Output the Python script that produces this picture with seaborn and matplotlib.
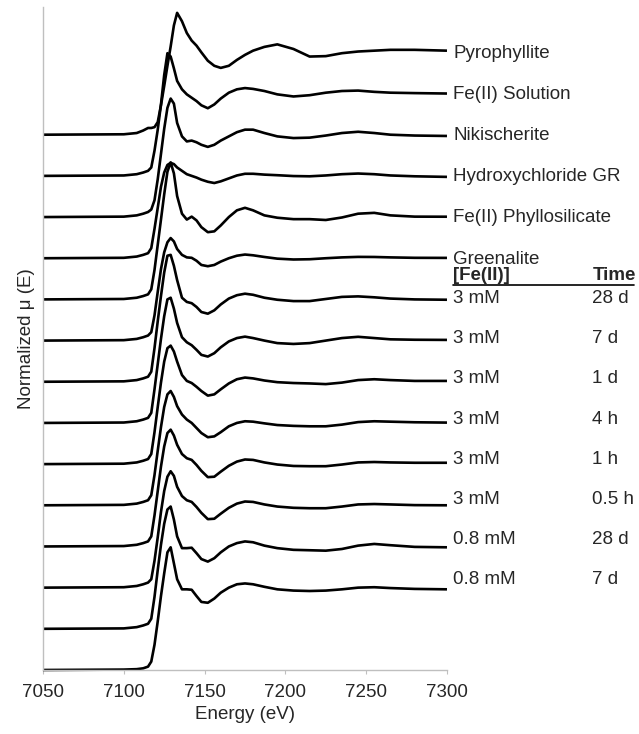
import matplotlib
matplotlib.use('Agg')
import matplotlib.pyplot as plt
import seaborn as sns
import pandas as pd

# energy grid (eV) and normalized mu(E), one list per spectrum
energy = [7050, 7100, 7108, 7112, 7115, 7117, 7119, 7121, 7123, 7125, 7127, 7129,
          7131, 7133, 7136, 7139, 7142, 7145, 7148, 7152, 7156, 7160, 7165, 7170,
          7175, 7180, 7187, 7195, 7205, 7215, 7225, 7235, 7245, 7255, 7265, 7280, 7300]

pyrophyllite = [0, 0.005, 0.02, 0.05, 0.08, 0.08, 0.09, 0.15, 0.35, 0.58, 0.82, 1.05,
                1.30, 1.45, 1.35, 1.21, 1.12, 1.06, 0.98, 0.88, 0.82, 0.795, 0.82, 0.89,
                0.95, 1.0, 1.045, 1.075, 1.02, 0.93, 0.935, 0.97, 0.99, 1.0, 1.01, 1.01, 1.0]
fe_solution = [0, 0.005, 0.02, 0.04, 0.06, 0.10, 0.30, 0.55, 0.85, 1.20, 1.46, 1.42,
               1.28, 1.13, 1.03, 0.97, 0.93, 0.89, 0.84, 0.805, 0.85, 0.92, 0.99, 1.03,
               1.045, 1.035, 1.01, 0.97, 0.945, 0.96, 0.99, 1.01, 1.015, 1.0, 0.99, 0.985, 0.98]
nikischerite = [0, 0.005, 0.02, 0.04, 0.06, 0.09, 0.20, 0.45, 0.75, 1.05, 1.30, 1.41,
                1.35, 1.12, 0.96, 0.90, 0.91, 0.89, 0.86, 0.835, 0.86, 0.91, 0.96, 1.01,
                1.04, 1.04, 1.0, 0.96, 0.94, 0.945, 0.97, 1.0, 1.015, 1.0, 0.98, 0.97, 0.965]
hydroxy_gr = [0, 0.005, 0.02, 0.04, 0.06, 0.12, 0.35, 0.60, 0.85, 1.02, 1.11, 1.135,
              1.12, 1.08, 1.04, 1.0, 0.98, 0.96, 0.935, 0.91, 0.895, 0.915, 0.95, 0.985,
              1.005, 1.005, 0.995, 0.988, 0.978, 0.975, 0.985, 1.0, 1.008, 1.0, 0.985, 0.975, 0.968]
phyllosilicate = [0, 0.005, 0.02, 0.04, 0.06, 0.12, 0.35, 0.65, 0.95, 1.25, 1.52, 1.63,
                  1.50, 1.23, 1.02, 0.95, 0.985, 0.94, 0.86, 0.80, 0.81, 0.88, 0.98, 1.06,
                  1.09, 1.06, 1.0, 0.972, 0.955, 0.955, 0.945, 0.975, 1.02, 1.03, 1.0, 0.985, 0.984]
greenalite = [0, 0.005, 0.02, 0.04, 0.06, 0.10, 0.30, 0.58, 0.85, 1.05, 1.17, 1.22,
              1.18, 1.09, 1.02, 0.99, 0.985, 0.95, 0.90, 0.885, 0.90, 0.94, 0.98, 1.01,
              1.024, 1.015, 0.995, 0.975, 0.965, 0.968, 0.98, 0.99, 0.996, 0.995, 0.99, 0.985, 0.984]
mm3_28d = [0, 0.005, 0.02, 0.04, 0.06, 0.12, 0.40, 0.72, 1.02, 1.30, 1.50, 1.51,
           1.38, 1.21, 1.0, 0.95, 0.935, 0.89, 0.83, 0.81, 0.85, 0.92, 0.99, 1.03,
           1.048, 1.035, 1.0, 0.976, 0.96, 0.96, 0.985, 1.01, 1.016, 1.005, 0.99, 0.98, 0.976]
mm3_7d = [0, 0.005, 0.02, 0.04, 0.06, 0.12, 0.40, 0.70, 1.0, 1.27, 1.47, 1.49,
          1.36, 1.19, 1.02, 0.96, 0.925, 0.87, 0.81, 0.79, 0.83, 0.90, 0.97, 1.01,
          1.027, 1.01, 0.98, 0.95, 0.94, 0.95, 0.98, 1.01, 1.025, 1.01, 0.995, 0.99, 0.988]
mm3_1d = [0, 0.005, 0.02, 0.04, 0.06, 0.12, 0.38, 0.68, 0.97, 1.22, 1.38, 1.41,
          1.34, 1.22, 1.06, 0.99, 0.965, 0.92, 0.87, 0.815, 0.83, 0.89, 0.96, 1.01,
          1.03, 1.02, 0.995, 0.975, 0.965, 0.96, 0.952, 0.97, 1.0, 1.01, 1.0, 0.99, 0.99]
mm3_4h = [0, 0.005, 0.02, 0.04, 0.06, 0.12, 0.36, 0.65, 0.93, 1.17, 1.32, 1.36,
          1.29, 1.18, 1.08, 1.02, 0.98, 0.92, 0.86, 0.81, 0.82, 0.87, 0.94, 0.98,
          1.0, 0.995, 0.975, 0.955, 0.945, 0.94, 0.94, 0.96, 0.99, 1.0, 0.995, 0.988, 0.984]
mm3_1h = [0, 0.005, 0.02, 0.04, 0.06, 0.12, 0.37, 0.66, 0.95, 1.19, 1.35, 1.39,
          1.32, 1.21, 1.10, 1.05, 1.03, 0.97, 0.90, 0.825, 0.83, 0.89, 0.96, 1.01,
          1.035, 1.03, 1.0, 0.975, 0.958, 0.955, 0.955, 0.975, 1.0, 1.005, 1.0, 0.996, 0.996]
mm3_05h = [0, 0.005, 0.02, 0.04, 0.06, 0.10, 0.32, 0.60, 0.90, 1.15, 1.32, 1.385,
           1.33, 1.20, 1.09, 1.04, 1.02, 0.96, 0.89, 0.815, 0.82, 0.88, 0.95, 1.0,
           1.025, 1.02, 0.99, 0.965, 0.95, 0.945, 0.945, 0.965, 0.99, 0.995, 0.99, 0.982, 0.98]
mm08_28d = [0, 0.005, 0.02, 0.04, 0.06, 0.12, 0.38, 0.70, 1.0, 1.25, 1.42, 1.455,
            1.30, 1.10, 0.96, 0.96, 0.965, 0.90, 0.83, 0.80, 0.84, 0.91, 0.98, 1.02,
            1.04, 1.03, 0.99, 0.96, 0.94, 0.935, 0.93, 0.95, 0.99, 1.01, 0.995, 0.975, 0.97]
mm08_7d = [0, 0.005, 0.01, 0.02, 0.04, 0.10, 0.30, 0.58, 0.88, 1.15, 1.40, 1.46,
           1.27, 1.08, 0.96, 0.96, 0.955, 0.88, 0.81, 0.80, 0.85, 0.92, 0.98, 1.02,
           1.03, 1.02, 0.99, 0.96, 0.945, 0.94, 0.945, 0.96, 0.98, 0.985, 0.975, 0.965, 0.96]

# top to bottom
spectra = [pyrophyllite, fe_solution, nikischerite, hydroxy_gr, phyllosilicate, greenalite,
           mm3_28d, mm3_7d, mm3_1d, mm3_4h, mm3_1h, mm3_05h, mm08_28d, mm08_7d]
names = ['Pyrophyllite', 'Fe(II) Solution', 'Nikischerite', 'Hydroxychloride GR',
         'Fe(II) Phyllosilicate', 'Greenalite']
conc = ['3 mM', '3 mM', '3 mM', '3 mM', '3 mM', '3 mM', '0.8 mM', '0.8 mM']
times = ['28 d', '7 d', '1 d', '4 h', '1 h', '0.5 h', '28 d', '7 d']

step = 0.49

sns.set_theme(style='white')
plt.rcParams['font.family'] = ['Liberation Sans', 'DejaVu Sans']

fig = plt.figure(figsize=(6.39, 7.34), dpi=100)
ax = fig.add_axes([0.0673, 0.0872, 0.6322, 0.9033])

n = len(spectra)
for i, mu in enumerate(spectra):
    shift = (n - 1 - i) * step
    df = pd.DataFrame({'Energy': energy, 'mu': [v + shift for v in mu]})
    sns.lineplot(x='Energy', y='mu', data=df, ax=ax, color='black',
                 linewidth=1.9, clip_on=False, solid_capstyle='butt',
                 solid_joinstyle='round')

fs = 13.5
label_x = 7304
for i, name in enumerate(names):
    shift = (n - 1 - i) * step
    ax.text(label_x, shift + 0.97, name, fontsize=fs, va='center', ha='left')

# sample labels sit on a slightly tighter spacing than the spectra
time_x = 7390
for j in range(len(conc)):
    y = 4.42 - j * 0.478
    ax.text(label_x, y, conc[j], fontsize=fs, va='center', ha='left')
    ax.text(time_x, y, times[j], fontsize=fs, va='center', ha='left')

# column headers for the sample series
head_y = 4.69
ax.text(label_x, head_y, '[Fe(II)]', fontsize=fs, fontweight='bold', va='center', ha='left')
ax.text(time_x, head_y, 'Time', fontsize=fs, fontweight='bold', va='center', ha='left')
ax.plot([label_x, 7416], [head_y - 0.11, head_y - 0.11], color='black',
        linewidth=1.2, clip_on=False)

ax.set_xlim(7050, 7300)
ax.set_ylim(0, 7.89)
ax.set_xticks([7050, 7100, 7150, 7200, 7250, 7300])
ax.set_yticks([])
ax.tick_params(axis='x', direction='out', length=3, width=0.8, color='#bfbfbf',
               labelsize=fs, pad=7, bottom=True)

for side in ['top', 'right']:
    ax.spines[side].set_visible(False)
for side in ['left', 'bottom']:
    ax.spines[side].set_color('#bfbfbf')
    ax.spines[side].set_linewidth(1.0)

ax.set_xlabel('Energy (eV)', fontsize=fs, labelpad=4)
ax.set_ylabel('Normalized μ (E)', fontsize=fs, labelpad=6)

fig.savefig('out.png', dpi=100)
